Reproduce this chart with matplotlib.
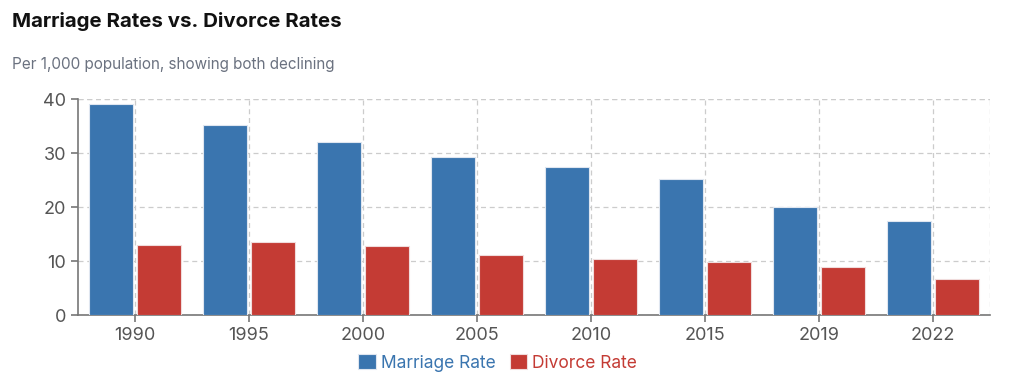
import numpy as np
import matplotlib
matplotlib.use("Agg")
import matplotlib.pyplot as plt

# Data (per 1,000 population)
years = ["1990", "1995", "2000", "2005", "2010", "2015", "2019", "2022"]
marriage_rate = [39.0, 35.2, 32.1, 29.3, 27.5, 25.2, 20.0, 17.5]
divorce_rate = [12.9, 13.5, 12.7, 11.2, 10.4, 9.8, 8.8, 6.7]

blue = "#3a75af"
red = "#c43b34"

plt.rcParams["font.family"] = ["Inter", "DejaVu Sans"]

fig = plt.figure(figsize=(10.24, 3.92), dpi=100)
ax = fig.add_axes([0.0762, 0.1964, 0.8906, 0.551])

x = np.arange(len(years))
w = 0.38
ax.bar(x - 0.21, marriage_rate, width=w, color=blue, edgecolor="#dfe6f0", linewidth=0.8,
       label="Marriage Rate", zorder=3)
ax.bar(x + 0.21, divorce_rate, width=w, color=red, edgecolor="#f0dcdc", linewidth=0.8,
       label="Divorce Rate", zorder=3)

ax.set_xlim(-0.5, len(years) - 0.5)
ax.set_ylim(0, 40)
ax.set_yticks([0, 10, 20, 30, 40])
ax.set_xticks(x)
ax.set_xticklabels(years)

ax.grid(True, linestyle=(0, (4, 3)), color="#cccccc", linewidth=0.9, zorder=0)
ax.axvline(len(years) - 0.5, linestyle=(0, (4, 3)), color="#cccccc", linewidth=0.9, zorder=0)
ax.axhline(40, linestyle=(0, (4, 3)), color="#cccccc", linewidth=0.9, zorder=0)

for s in ["top", "right"]:
    ax.spines[s].set_visible(False)
for s in ["left", "bottom"]:
    ax.spines[s].set_color("#777777")
    ax.spines[s].set_linewidth(1.2)
ax.tick_params(colors="#777777", labelcolor="#555555", labelsize=13, length=5, width=1.2)

fig.text(0.012, 0.945, "Marriage Rates vs. Divorce Rates", fontsize=14.7, fontweight="bold",
         color="#111111", va="center")
fig.text(0.012, 0.835, "Per 1,000 population, showing both declining", fontsize=11,
         color="#6b7280", va="center")

leg = fig.legend(loc="center", bbox_to_anchor=(0.486, 0.074), ncol=2, frameon=False,
                 fontsize=12.5, handlelength=1.0, handleheight=0.9, handletextpad=0.3,
                 columnspacing=0.8)
for t, c in zip(leg.get_texts(), [blue, red]):
    t.set_color(c)

fig.savefig("out.png", dpi=100)
